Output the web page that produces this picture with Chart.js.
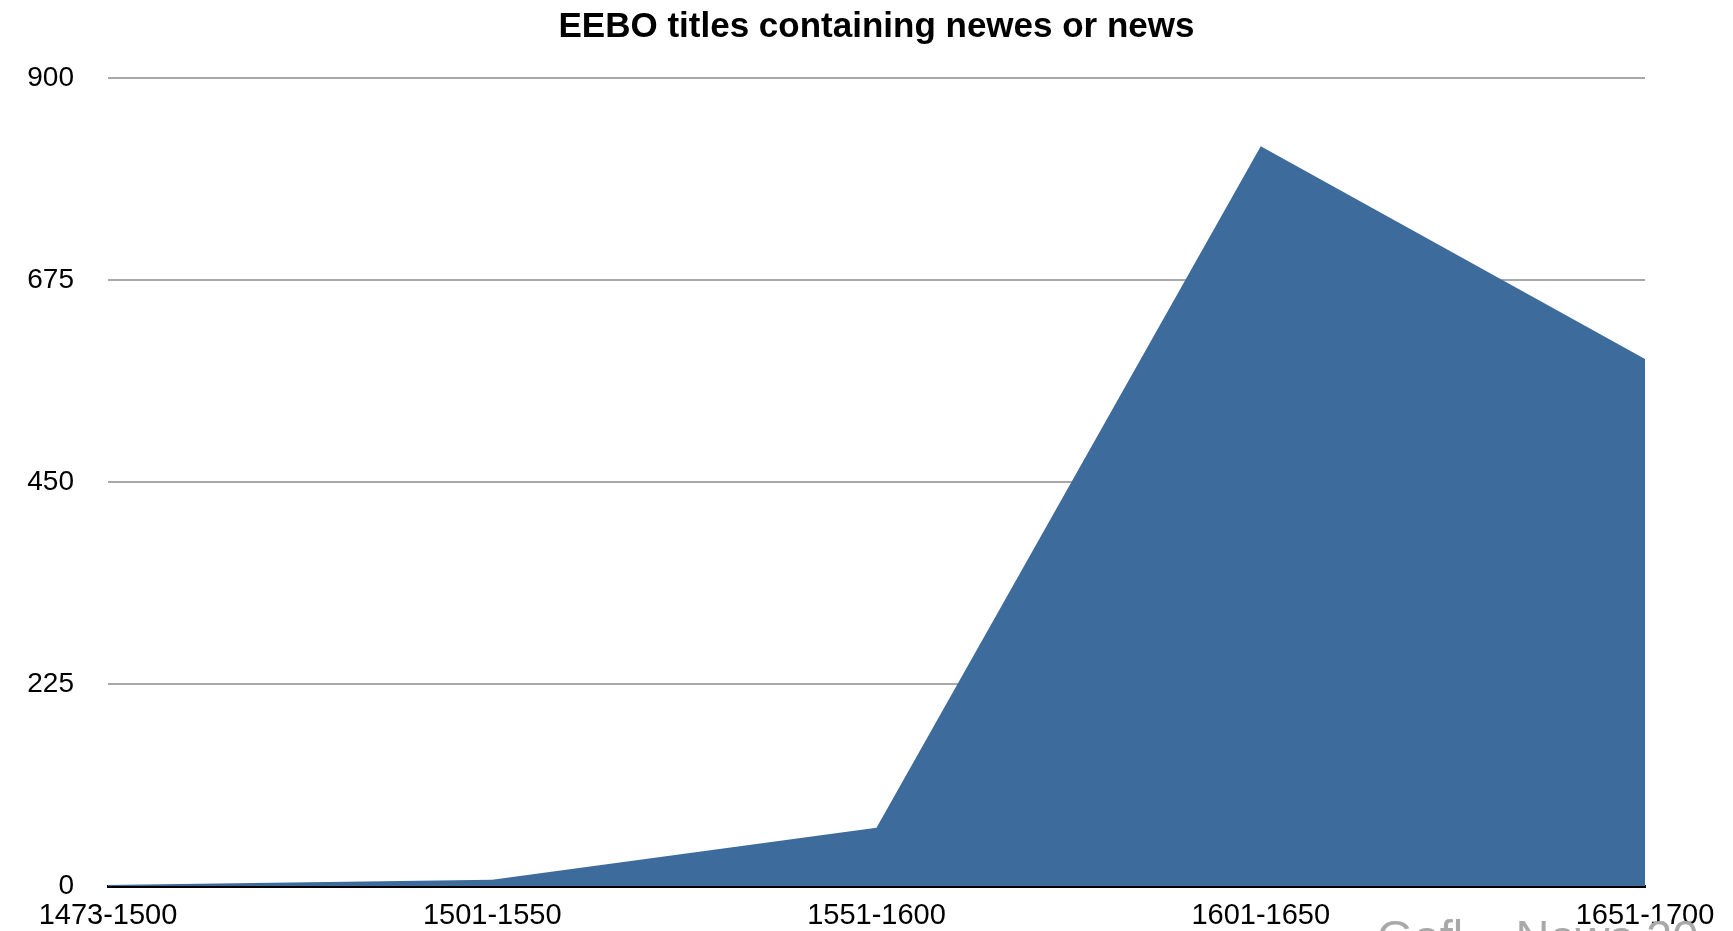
<!DOCTYPE html>
<html>
<head>
<meta charset="utf-8">
<title>EEBO titles containing newes or news</title>
<script src="https://cdn.jsdelivr.net/npm/chart.js@4"></script>
<style>
  html, body { margin: 0; padding: 0; background: #fff; }
  #wrap { width: 1733px; height: 931px; position: relative; }
</style>
</head>
<body>
<div id="wrap"><canvas id="eeboChart"></canvas></div>
<script>
// ── Datos ──
const periods = ['1473-1500', '1501-1550', '1551-1600', '1601-1650', '1651-1700'];
const titleCounts = [1, 7, 65, 824, 587];
const yTicks = [0, 225, 450, 675, 900];
const chartTitle = 'EEBO titles containing newes or news';
const footNote = 'Gofl    News 20';

const FONT = '"Liberation Sans", Arial, Helvetica, sans-serif';

// texto gris recortado abajo a la derecha
const footNotePlugin = {
  id: 'footNote',
  beforeDatasetsDraw(chart) {
    const { ctx, chartArea } = chart;
    ctx.save();
    ctx.font = '47px ' + FONT;
    ctx.fillStyle = '#a9a9a9';
    ctx.textAlign = 'left';
    ctx.textBaseline = 'alphabetic';
    ctx.fillText(footNote, chartArea.right - 268, chartArea.bottom + 67);
    ctx.restore();
  }
};

new Chart(document.getElementById('eeboChart').getContext('2d'), {
  type: 'line',
  data: {
    labels: periods,
    datasets: [{
      data: titleCounts,
      backgroundColor: '#3d6b9b',
      borderColor: '#3d6b9b',
      borderWidth: 0,
      pointRadius: 0,
      tension: 0,
      fill: 'origin',
    }],
  },
  options: {
    responsive: true,
    maintainAspectRatio: false,
    animation: false,
    devicePixelRatio: 1,
    layout: { padding: { left: 0, right: 88, top: 0, bottom: 0 } },
    plugins: {
      legend: { display: false },
      tooltip: { enabled: false },
      title: {
        display: true,
        text: chartTitle,
        fullSize: false,
        color: '#000',
        font: { family: FONT, size: 35, weight: 'bold', lineHeight: 1.2 },
        padding: { top: 6, bottom: 30 },
      },
    },
    scales: {
      x: {
        type: 'category',
        offset: false,
        z: 1,
        grid: { display: false, drawTicks: false },
        border: { display: true, color: '#000', width: 3 },
        ticks: {
          color: '#000',
          font: { family: FONT, size: 29 },
          padding: 13,
          maxRotation: 0,
          autoSkip: false,
        },
        afterFit: s => { s.height = 45; },
      },
      y: {
        min: 0,
        max: 900,
        afterBuildTicks: s => { s.ticks = yTicks.map(v => ({ value: v })); },
        grid: { color: '#a8a8a8', lineWidth: 2, drawTicks: false },
        border: { display: false },
        ticks: {
          color: '#000',
          font: { family: FONT, size: 28 },
          padding: 34,
        },
        // el padding de las etiquetas no debe encoger el área vertical
        afterFit: s => { s.width = 108; s.paddingTop = 0; s.paddingBottom = 0; },
      },
    },
  },
  plugins: [footNotePlugin],
});
</script>
</body>
</html>
